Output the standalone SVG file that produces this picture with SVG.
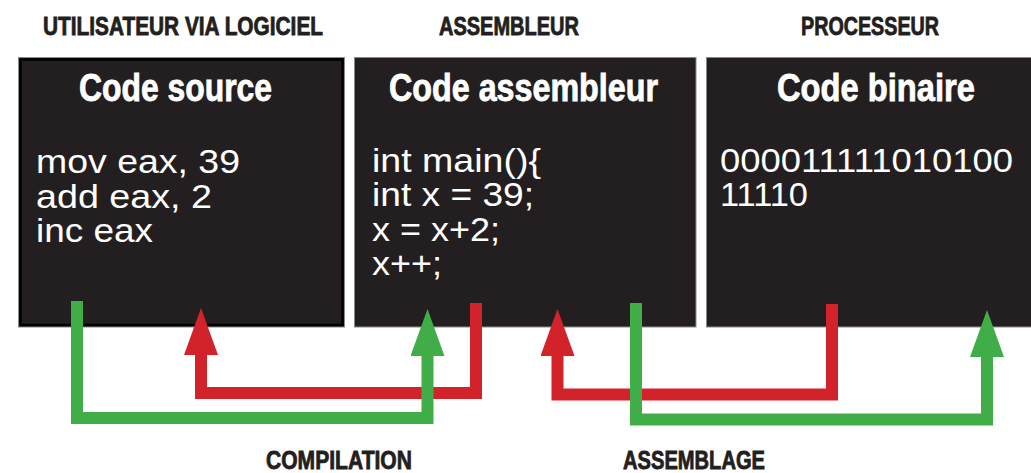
<svg xmlns="http://www.w3.org/2000/svg" width="1031" height="473" viewBox="0 0 1031 473">
<style>
.box{fill:#231f20;stroke:#8a8a8a;stroke-width:1}
.hdr{font-family:"Liberation Sans",Arial,sans-serif;font-weight:bold;font-size:25px;fill:#231f20;stroke:#231f20;stroke-width:0.8}
.ttl{font-family:"Liberation Sans",Arial,sans-serif;font-weight:bold;font-size:38px;fill:#ffffff;stroke:#ffffff;stroke-width:0.8}
.code{font-family:"Liberation Sans",Arial,sans-serif;font-size:33px;fill:#ffffff}
.red{fill:none;stroke:#d2232a;stroke-width:12;stroke-linejoin:miter;stroke-linecap:butt}
.grn{fill:none;stroke:#41ad49;stroke-width:12;stroke-linejoin:miter;stroke-linecap:butt}
</style>
<defs>
<marker id="hr" markerUnits="userSpaceOnUse" viewBox="0 -17 47 34" refX="0" refY="0" markerWidth="47" markerHeight="34" orient="auto"><path d="M0,-17 L47,0 L0,17 Z" fill="#d2232a"/></marker>
<marker id="hg" markerUnits="userSpaceOnUse" viewBox="0 -17 47 34" refX="0" refY="0" markerWidth="47" markerHeight="34" orient="auto"><path d="M0,-17 L47,0 L0,17 Z" fill="#41ad49"/></marker>
</defs>
<rect width="1031" height="473" fill="#ffffff"/>
<g id="labels">
<text class="hdr" x="43" y="35" textLength="280" lengthAdjust="spacingAndGlyphs">UTILISATEUR VIA LOGICIEL</text>
<text class="hdr" x="439" y="35" textLength="140" lengthAdjust="spacingAndGlyphs">ASSEMBLEUR</text>
<text class="hdr" x="801" y="35" textLength="138" lengthAdjust="spacingAndGlyphs">PROCESSEUR</text>
<text class="hdr" x="266" y="469" textLength="146" lengthAdjust="spacingAndGlyphs">COMPILATION</text>
<text class="hdr" x="623" y="469" textLength="142" lengthAdjust="spacingAndGlyphs">ASSEMBLAGE</text>
</g>
<g id="node-source">
<rect class="box" x="18.5" y="57.5" width="326" height="269.5"/>
<rect x="20.5" y="59.5" width="322" height="265.5" fill="none" stroke="#000" stroke-width="2.5"/>
<text class="ttl" x="79" y="101" textLength="193" lengthAdjust="spacingAndGlyphs">Code source</text>
<text class="code" x="36" y="173" textLength="204" lengthAdjust="spacingAndGlyphs">mov eax, 39</text>
<text class="code" x="36" y="208" textLength="176" lengthAdjust="spacingAndGlyphs">add eax, 2</text>
<text class="code" x="36" y="242" textLength="117" lengthAdjust="spacingAndGlyphs">inc eax</text>
</g>
<g id="node-assembleur">
<rect class="box" x="354.5" y="57.5" width="341.5" height="269.5"/>
<text class="ttl" x="389" y="101" textLength="269" lengthAdjust="spacingAndGlyphs">Code assembleur</text>
<text class="code" x="372" y="172" textLength="169" lengthAdjust="spacingAndGlyphs">int main(){</text>
<text class="code" x="372" y="206" textLength="162" lengthAdjust="spacingAndGlyphs">int x = 39;</text>
<text class="code" x="372" y="241" textLength="128" lengthAdjust="spacingAndGlyphs">x = x+2;</text>
<text class="code" x="372" y="275" textLength="70" lengthAdjust="spacingAndGlyphs">x++;</text>
</g>
<g id="node-binaire">
<rect class="box" x="706.5" y="57.5" width="340" height="269.5"/>
<text class="ttl" x="777" y="101" textLength="198" lengthAdjust="spacingAndGlyphs">Code binaire</text>
<text class="code" x="720" y="172" textLength="293" lengthAdjust="spacingAndGlyphs">000011111010100</text>
<text class="code" x="720" y="206" textLength="88" lengthAdjust="spacingAndGlyphs">11110</text>
</g>
<g id="connectors">
<path class="red" d="M476,303 V393 H201 V355" marker-end="url(#hr)"/>
<path class="grn" d="M77,301 V418 H427.5 V356" marker-end="url(#hg)"/>
<path class="red" d="M832,304 V394.5 H557.5 V356" marker-end="url(#hr)"/>
<path class="grn" d="M636,303 V419.5 H987 V357" marker-end="url(#hg)"/>
</g>
</svg>
